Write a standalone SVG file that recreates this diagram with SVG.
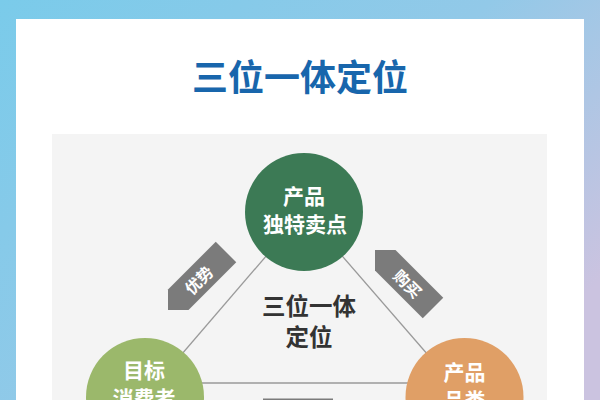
<svg xmlns="http://www.w3.org/2000/svg" width="600" height="400" viewBox="0 0 600 400">
  <defs>
    <linearGradient id="bg" x1="0" y1="0" x2="1" y2="0.7">
      <stop offset="0" stop-color="#7acbea"/>
      <stop offset="0.55" stop-color="#92c9e8"/>
      <stop offset="1" stop-color="#cbc3e0"/>
    </linearGradient>
    <style>
      .cjk { font-family: "Noto Sans CJK SC", "Noto Sans", sans-serif; font-weight: 700; text-anchor: middle; dominant-baseline: central; }
      .node-text { fill: #ffffff; font-size: 21px; }
      .tag { fill: #7b7b7b; }
      .tag-text { fill: #ffffff; font-size: 16px; }
      .link { stroke: #9a9a9a; stroke-width: 1.3; fill: none; }
    </style>
  </defs>

  <rect x="0" y="0" width="600" height="400" fill="url(#bg)"/>
  <rect x="16" y="19" width="568" height="400" fill="#ffffff"/>
  <rect x="52" y="134" width="495" height="280" fill="#f4f4f4"/>

  <text class="cjk" x="300" y="75" font-size="36" font-weight="900" fill="#1866ac">三位一体定位</text>

  <g id="connectors">
    <line class="link" x1="304" y1="212" x2="145" y2="397"/>
    <line class="link" x1="304" y1="212" x2="464.5" y2="397"/>
    <line class="link" x1="145" y1="383" x2="464.5" y2="383"/>
  </g>

  <g id="center-label">
    <text class="cjk" x="309" y="305" font-size="23.5" font-weight="900" fill="#333333">三位一体</text>
    <text class="cjk" x="309" y="336" font-size="23.5" font-weight="900" fill="#333333">定位</text>
  </g>

  <g id="tag-youshi" transform="translate(197,281) rotate(-45)">
    <polygon class="tag" points="-41,0 -26.5,-14.5 41,-14.5 41,14.5 -26.5,14.5"/>
    <text class="cjk tag-text" x="2" y="0">优势</text>
  </g>

  <g id="tag-goumai" transform="translate(404,279) rotate(45)">
    <polygon class="tag" points="-41,0 -26.5,-14.5 41,-14.5 41,14.5 -26.5,14.5"/>
    <text class="cjk tag-text" x="6" y="0">购买</text>
  </g>

  <g id="tag-bottom">
    <rect class="tag" x="263" y="398.5" width="70" height="20"/>
  </g>

  <g id="node-usp">
    <circle cx="304" cy="212" r="59" fill="#3c7a55"/>
    <text class="cjk node-text" x="304" y="195">产品</text>
    <text class="cjk node-text" x="305" y="223">独特卖点</text>
  </g>

  <g id="node-consumer">
    <circle cx="145" cy="397" r="59" fill="#9bb86b"/>
    <text class="cjk node-text" x="144" y="369">目标</text>
    <text class="cjk node-text" x="144" y="397">消费者</text>
  </g>

  <g id="node-category">
    <circle cx="464.5" cy="397" r="59" fill="#e09f66"/>
    <text class="cjk node-text" x="464.5" y="371">产品</text>
    <text class="cjk node-text" x="464.5" y="399">品类</text>
  </g>
</svg>
